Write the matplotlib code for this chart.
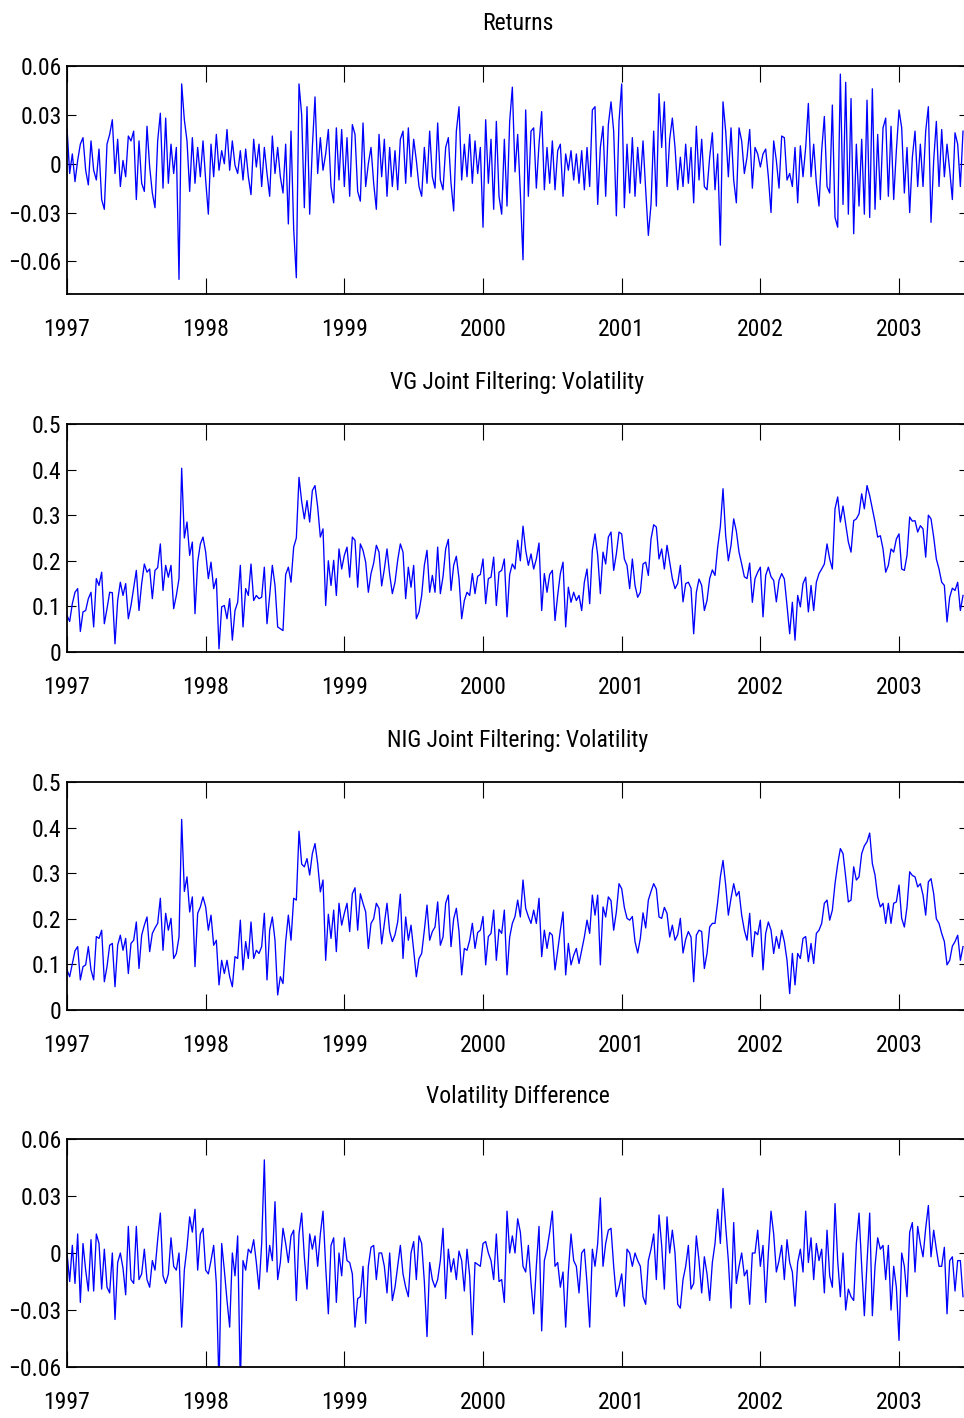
import numpy as np
import matplotlib
matplotlib.use("Agg")
import matplotlib.pyplot as plt
from matplotlib import font_manager

# ---------------------------------------------------------------------------
# Weekly series, January 1997 to mid 2003
# ---------------------------------------------------------------------------
start_year = 1997.0
weeks_per_year = 52.0

returns = [
    .022, -.006, .006, -.011, .002, .012, .016, -.004, -.013, .014,
    -.004, -.010, .009, -.022, -.028, .012, .018, .027, -.006, .015,
    -.014, .002, -.008, .017, .014, .020, -.022, .014, -.012, -.017,
    .023, -.002, -.018, -.027, .014, .031, -.015, .028, -.012, .012,
    -.006, .010, -.071, .049, .027, .014, -.017, .016, -.012, .010,
    -.008, .014, -.010, -.031, .012, -.008, .018, -.004, .008, .000,
    .021, -.004, .014, -.001, -.006, .008, -.010, .009, -.008, -.019,
    .015, -.002, .012, -.014, .010, -.006, -.020, .017, -.006, .010,
    -.008, -.018, .012, -.037, .020, -.040, -.070, .049, .030, -.027,
    .035, -.031, .010, .041, -.006, .016, -.004, .006, .021, -.014,
    -.024, .022, -.010, .021, -.014, .016, -.020, .024, .018, -.017,
    -.023, .025, -.014, .000,
    .010, -.012, -.028, .018, -.008, .015, -.020, .010, -.014, .008,
    -.016, .015, .020, -.012, .022, -.008, .015, .002, -.014, -.020,
    .010, -.012, .020, -.008, -.015, .025, -.010, -.016, .010, .016,
    -.012, -.029, .020, .035, -.010, .012, -.008, .018, -.012, .014,
    -.006, .010, -.039, .027, -.012, .015, -.028, .026, -.020, -.031,
    .015, -.026, .026, .047, -.005, .018, -.018, -.059, .033, -.020,
    .020, .022, -.015, .012, .032, -.016, .010, -.012, .014, -.016,
    .008, .012, -.020, .006, -.004, .008, -.010, .006, -.012, .008,
    -.016, .010, -.014, .033, .035, -.025, .010, .023, -.020, .024,
    .038, .020, -.032, .026, .049, -.027, .012, -.018, .016, -.020,
    .010, -.012, .014, -.016, -.044, -.025, .020, -.026, .043, .010,
    .038, -.014, .015,
    .028, .010, -.016, .004, -.014, .012, -.012, .010, -.024, .023,
    -.010, .015, -.014, -.016, .004, .019, -.016, .006, -.050, .038,
    .020, -.008, .022, -.010, -.024, .022, .014, -.006, .004, .021,
    -.015, .010, .006, -.002, .006, .009, -.008, -.030, .014, .002,
    -.015, .017, .016, -.010, -.006, -.014, .010, -.024, .011, -.008,
    .010, .037, -.008, .012, -.012, -.026, .008, .029, -.014, -.018,
    .036, -.033, -.039, .055, -.025, .050, -.031, .040, -.043, .012,
    -.026, .015, -.031, .039, -.033, .046, -.028, .018, -.022, .022,
    .028, -.020, .023, -.022, .008, .033, .022, -.018, .010, -.030,
    .004, .020, -.014, .012, -.014, .020, .035, -.036, .002, .026,
    -.014, .021, -.008, .012, -.004, -.022, .019, .012, -.014, .020,
]

vg_vol = [
    .080, .067, .106, .131, .139, .045, .088, .091, .117, .131,
    .055, .161, .146, .175, .062, .095, .131, .130, .018, .113,
    .153, .124, .150, .073, .102, .140, .179, .091, .150, .193,
    .175, .182, .117, .179, .185, .237, .135, .190, .164, .190,
    .095, .124, .161, .403, .250, .285, .212, .241, .084, .197,
    .237, .252, .219, .161, .197, .139, .161, .007, .099, .102,
    .073, .117, .026, .091, .109, .190, .055, .139, .124, .193,
    .113, .124, .117, .120, .186, .062, .124, .190, .146, .055,
    .051, .047, .170, .186, .153, .230, .250, .383, .330, .292,
    .332, .285, .354, .365, .318, .252, .270, .102, .200, .146,
    .201, .124, .226, .182, .212, .230, .164, .252, .245, .142,
    .237, .223, .197, .131,
    .172, .195, .234, .219, .145, .182, .226, .170, .128, .153,
    .201, .237, .219, .117, .186, .142, .190, .073, .088, .124,
    .190, .223, .131, .168, .131, .230, .128, .165, .226, .247,
    .135, .190, .210, .161, .073, .113, .131, .124, .172, .128,
    .166, .170, .204, .106, .161, .164, .208, .102, .175, .179,
    .204, .077, .170, .193, .182, .245, .200, .276, .223, .190,
    .215, .182, .204, .239, .091, .172, .131, .170, .179, .069,
    .124, .172, .197, .055, .142, .109, .131, .113, .124, .091,
    .153, .182, .106, .223, .259, .212, .128, .219, .193, .252,
    .263, .179, .215, .263, .259, .204, .190, .139, .204, .146,
    .120, .131, .193, .197, .168, .248, .279, .274, .204, .226,
    .182, .234, .197,
    .161, .139, .150, .190, .110, .150, .153, .140, .040, .131,
    .160, .146, .091, .113, .161, .180, .168, .230, .275, .358,
    .255, .200, .234, .292, .265, .219, .193, .165, .161, .195,
    .109, .161, .175, .186, .077, .168, .186, .165, .157, .110,
    .157, .172, .160, .102, .040, .109, .026, .124, .099, .150,
    .164, .088, .146, .091, .153, .172, .182, .193, .237, .204,
    .182, .314, .340, .285, .320, .281, .241, .219, .288, .292,
    .303, .347, .314, .365, .343, .314, .285, .252, .255, .226,
    .175, .190, .226, .219, .248, .259, .182, .179, .212, .296,
    .287, .288, .263, .277, .270, .208, .300, .292, .252, .204,
    .182, .153, .146, .066, .120, .140, .135, .153, .091, .124,
]

nig_vol = [
    .088, .073, .102, .130, .139, .066, .095, .099, .139, .088,
    .066, .161, .157, .175, .062, .095, .142, .146, .051, .142,
    .164, .131, .157, .080, .146, .153, .193, .091, .164, .186,
    .204, .128, .168, .180, .190, .245, .131, .212, .175, .201,
    .113, .124, .160, .418, .260, .292, .215, .248, .095, .212,
    .226, .248, .226, .175, .208, .142, .153, .055, .109, .080,
    .109, .073, .051, .117, .113, .197, .088, .150, .113, .193,
    .113, .131, .124, .139, .212, .066, .175, .204, .153, .033,
    .073, .058, .150, .208, .153, .245, .241, .392, .320, .314,
    .332, .296, .343, .365, .321, .259, .285, .109, .210, .157,
    .219, .128, .234, .186, .212, .234, .172, .255, .268, .175,
    .255, .234, .215, .135,
    .190, .200, .234, .223, .145, .190, .234, .172, .150, .165,
    .193, .254, .113, .204, .153, .186, .131, .073, .113, .124,
    .175, .230, .153, .172, .182, .237, .142, .160, .234, .252,
    .139, .200, .223, .172, .077, .135, .131, .153, .190, .135,
    .170, .175, .205, .099, .161, .168, .219, .109, .177, .168,
    .219, .077, .160, .190, .205, .241, .204, .285, .223, .205,
    .190, .219, .190, .245, .117, .175, .135, .170, .164, .088,
    .130, .175, .215, .077, .146, .099, .120, .135, .102, .131,
    .160, .197, .168, .252, .208, .252, .099, .226, .204, .248,
    .240, .175, .215, .277, .266, .225, .201, .197, .205, .150,
    .125, .157, .213, .180, .241, .260, .277, .265, .204, .201,
    .225, .212, .160,
    .186, .153, .165, .201, .125, .155, .172, .160, .062, .164,
    .175, .172, .091, .124, .182, .190, .190, .237, .292, .328,
    .274, .208, .245, .277, .250, .260, .208, .175, .153, .212,
    .117, .172, .165, .197, .088, .168, .193, .175, .124, .161,
    .135, .175, .150, .109, .036, .124, .055, .124, .113, .157,
    .161, .106, .146, .102, .168, .175, .190, .234, .241, .197,
    .219, .277, .320, .354, .343, .292, .237, .241, .314, .285,
    .292, .343, .360, .369, .388, .321, .296, .248, .226, .234,
    .190, .234, .190, .234, .237, .274, .201, .182, .226, .303,
    .295, .292, .270, .277, .252, .208, .281, .288, .255, .200,
    .190, .168, .150, .099, .109, .140, .150, .164, .109, .139,
]

vol_diff = [
    .000, -.015, .004, -.016, .010, -.026, .005, -.009, -.020, .007,
    -.020, .010, .005, -.019, .002, -.018, -.021, .000, -.035, -.005,
    .000, -.008, -.022, .014, -.014, -.016, .014, -.014, -.011, .002,
    -.014, -.018, -.004, -.009, .007, .021, -.012, -.016, -.011, .008,
    -.007, -.009, .000, -.039, -.009, .003, .019, .011, .023, -.009,
    .010, .013, -.009, -.011, -.004, .004, -.016, -.070, .005, -.009,
    -.025, -.039, .000, -.012, .009, -.070, -.004, -.009, .002, .000,
    .007, -.005, -.019, .005, .049, -.010, .004, -.004, .027, -.014,
    -.005, .013, .005, -.005, .009, .012, -.025, .010, .021, -.002,
    -.019, .010, .002, .009, -.007, .010, .022, -.007, -.032, .004,
    .008, -.026, .000, -.012, .008, -.004, -.005, -.011, -.039, -.024,
    -.023, -.007, -.037, -.007,
    .003, .004, -.014, .000, .000, -.007, -.021, .000, -.025, -.018,
    -.007, .004, -.011, -.018, -.023, .000, .006, -.014, .009, .005,
    -.015, -.044, -.005, -.014, -.018, -.014, -.004, .013, -.024, .002,
    -.010, -.003, -.014, .001, -.004, -.020, .002, -.012, -.043, -.005,
    -.006, -.007, .005, .006, .000, -.004, -.014, .010, -.015, -.014,
    -.026, .022, .000, .009, .000, .018, .011, -.007, -.010, .004,
    -.016, -.032, -.007, .014, -.041, -.004, .002, .011, .022, -.007,
    -.005, -.018, -.010, -.039, -.010, .010, -.004, -.007, -.021, .000,
    .002, -.016, -.039, .002, -.007, .005, .029, -.007, .005, .012,
    .013, -.007, -.023, -.018, -.011, -.028, .002, .000, -.007, .000,
    -.004, -.007, -.023, -.027, -.004, .002, .010, -.014, .020, .004,
    -.019, .019, .000,
    .012, .000, -.027, -.029, -.014, -.007, .004, -.019, -.016, .009,
    -.004, -.021, -.002, -.011, -.025, -.005, .005, .023, .005, .034,
    .014, -.004, -.029, .016, -.016, -.007, .000, -.012, -.009, -.027,
    .000, .000, .012, -.007, .004, -.026, .000, .022, .010, -.010,
    -.004, .004, -.014, .007, -.005, -.010, -.028, -.005, .002, -.010,
    .022, -.005, .008, -.014, .005, -.004, .002, -.021, .012, -.012,
    -.018, .026, -.004, -.023, .000, -.030, -.019, -.023, -.025, .005,
    .021, -.007, -.033, -.005, .021, -.033, -.007, .008, .002, .004,
    -.014, .004, -.030, -.007, -.018, -.046, .000, -.007, -.023, .011,
    .016, -.010, .014, .005, -.002, .013, .025, -.002, .012, .002,
    -.007, -.007, .003, -.032, -.004, -.002, -.020, -.004, -.004, -.023,
]

titles = ["Returns",
          "VG Joint Filtering: Volatility",
          "NIG Joint Filtering: Volatility",
          "Volatility Difference"]
year_ticks = [1997, 1998, 1999, 2000, 2001, 2002, 2003]
ret_ticks = [-0.06, -0.03, 0.0, 0.03, 0.06]
ret_labels = ["\u22120.06", "\u22120.03", "0", "0.03", "0.06"]
vol_ticks = [0.0, 0.1, 0.2, 0.3, 0.4, 0.5]
vol_labels = ["0", "0.1", "0.2", "0.3", "0.4", "0.5"]


# ---------------------------------------------------------------------------
# Font: prefer a narrow sans face, fall back to Liberation Sans
# ---------------------------------------------------------------------------
def pick_narrow_font():
    preferred = ["Liberation Sans Narrow", "Arial Narrow", "Roboto Condensed",
                 "Open Sans Condensed", "Noto Sans", "DejaVu Sans", "Lato",
                 "Inter", "Roboto", "Open Sans"]
    found = []
    for f in font_manager.fontManager.ttflist:
        if f.style != "normal":
            continue
        w = f.weight
        if isinstance(w, str):
            w = {"normal": 400, "regular": 400, "book": 400}.get(w.lower(), 0)
        if w != 400:
            continue
        st = f.stretch
        narrow = ("Narrow" in f.name or "Condensed" in f.name
                  or "condensed" in str(st).lower()
                  or (isinstance(st, (int, float)) and st < 500)
                  or "Condensed" in f.fname or "Narrow" in f.fname)
        if not narrow:
            continue
        rank = len(preferred)
        for r, p in enumerate(preferred):
            if f.name.startswith(p):
                rank = r
                break
        found.append((rank, f.fname))
    if found:
        found.sort()
        return font_manager.FontProperties(fname=found[0][1]), True
    return font_manager.FontProperties(family="Liberation Sans"), False


font_prop, is_narrow = pick_narrow_font()
font_size = 17 if is_narrow else 16
font_prop.set_size(font_size)

# ---------------------------------------------------------------------------
# Figure
# ---------------------------------------------------------------------------
W, H = 964, 1418
fig = plt.figure(figsize=(W / 100, H / 100), dpi=100)

left_px, right_px = 67, 968
panel_tops = [66, 424, 782, 1139]
panel_h = 228
x_end = 1997 + (right_px - left_px) / 138.67

series = [returns, vg_vol, nig_vol, vol_diff]
ylims = [(-0.08, 0.06), (0.0, 0.5), (0.0, 0.5), (-0.06, 0.06)]
yticks = [(ret_ticks, ret_labels), (vol_ticks, vol_labels),
          (vol_ticks, vol_labels), (ret_ticks, ret_labels)]

for i in range(4):
    top = panel_tops[i]
    ax = fig.add_axes([left_px / W, 1 - (top + panel_h) / H,
                       (right_px - left_px) / W, panel_h / H])
    vals = np.asarray(series[i])
    dates = start_year + np.arange(len(vals)) / weeks_per_year
    ax.plot(dates, vals, color="#0000ff", lw=0.95)

    ax.set_xlim(1997, x_end)
    ax.set_ylim(*ylims[i])
    ax.set_xticks(year_ticks)
    ax.set_xticklabels([str(y) for y in year_ticks], fontproperties=font_prop)
    ax.set_yticks(yticks[i][0])
    ax.set_yticklabels(yticks[i][1], fontproperties=font_prop)

    ax.tick_params(axis="x", which="both", direction="in", length=11.5,
                   width=0.8, top=True, bottom=True, pad=17, color="black")
    ax.tick_params(axis="y", which="both", direction="in", length=6.5,
                   width=0.8, left=True, right=True, pad=4, color="black")
    for s in ax.spines.values():
        s.set_linewidth(1.3)
        s.set_color("black")

    ax.text(0.5, 1 + 42 / panel_h, titles[i], transform=ax.transAxes,
            ha="center", va="center", fontproperties=font_prop)

fig.savefig("out.png", dpi=100)
